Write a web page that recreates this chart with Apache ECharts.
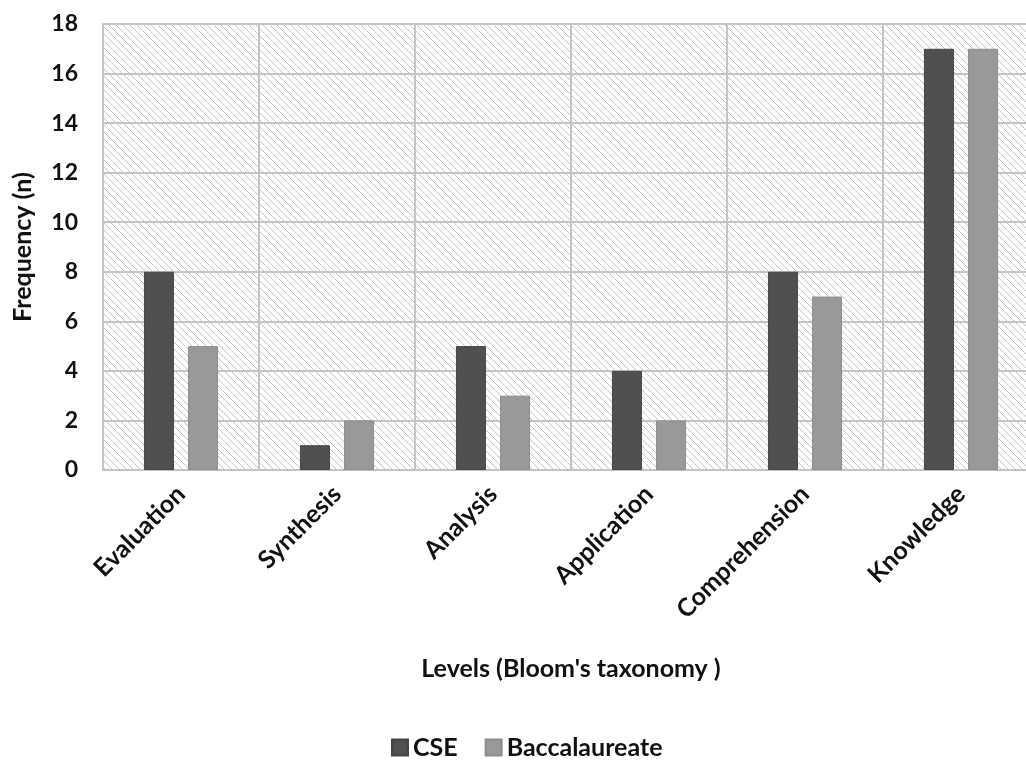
<!DOCTYPE html>
<html>
<head>
<meta charset="utf-8">
<script src="https://cdn.jsdelivr.net/npm/echarts@6/dist/echarts.min.js"></script>
<style>
  html, body { margin: 0; padding: 0; background: #fff; }
  #chart { width: 1026px; height: 760px; }
</style>
</head>
<body>
<div id="chart"></div>
<script>
// Bloom's taxonomy levels and question counts per source
const levels = ['Evaluation', 'Synthesis', 'Analysis', 'Application', 'Comprehension', 'Knowledge'];
const cseValues = [8, 1, 5, 4, 8, 17];
const baccValues = [5, 2, 3, 2, 7, 17];
const yTicks = { min: 0, max: 18, step: 2 };

// Diagonal hatch fill for the plot background
function makeHatch() {
  const c = document.createElement('canvas');
  c.width = 7; c.height = 7;
  const g = c.getContext('2d');
  g.fillStyle = '#ffffff';
  g.fillRect(0, 0, 7, 7);
  g.strokeStyle = '#c2c2c2';
  g.lineWidth = 1;
  g.beginPath();
  g.moveTo(-1, -1); g.lineTo(8, 8);
  g.moveTo(-1, 6); g.lineTo(1, 8);
  g.moveTo(6, -1); g.lineTo(8, 1);
  g.stroke();
  return c;
}

const font = 'Lato, "Open Sans", sans-serif';
const chart = echarts.init(document.getElementById('chart'));
chart.setOption({
  animation: false,
  grid: {
    left: 103, top: 24, width: 936, height: 446,
    outerBoundsMode: 'none',
    show: true,
    backgroundColor: { image: makeHatch(), repeat: 'repeat' },
    borderColor: '#c4c4c4', borderWidth: 2
  },
  legend: {
    top: 730, left: 386,
    itemWidth: 16, itemHeight: 16, itemGap: 27,
    icon: 'rect',
    textStyle: { fontFamily: font, fontWeight: 'bold', fontSize: 25, color: '#111' },
    data: ['CSE', 'Baccalaureate']
  },
  xAxis: {
    type: 'category',
    data: levels,
    name: "Levels (Bloom's taxonomy )",
    nameLocation: 'middle',
    nameGap: 186,
    nameTextStyle: { fontFamily: font, fontWeight: 'bold', fontSize: 25, color: '#111' },
    axisLine: { lineStyle: { color: '#c4c4c4', width: 2 } },
    axisTick: { show: false },
    splitLine: { show: true, lineStyle: { color: '#c4c4c4', width: 2 } },
    axisLabel: {
      rotate: 45, margin: 20, interval: 0,
      fontFamily: font, fontWeight: 'bold', fontSize: 25, color: '#111'
    }
  },
  yAxis: {
    type: 'value',
    min: yTicks.min, max: yTicks.max, interval: yTicks.step,
    name: 'Frequency (n)',
    nameLocation: 'middle',
    nameGap: 68,
    nameTextStyle: { fontFamily: font, fontWeight: 'bold', fontSize: 25, color: '#111' },
    axisLine: { show: false },
    axisTick: { show: false },
    splitLine: { lineStyle: { color: '#c4c4c4', width: 2 } },
    axisLabel: { margin: 25, fontFamily: font, fontWeight: 'bold', fontSize: 23, color: '#111' }
  },
  series: [
    {
      name: 'CSE', type: 'bar', data: cseValues,
      barWidth: 30, barGap: '47%',
      itemStyle: { color: '#505050', borderColor: '#444', borderWidth: 1 }
    },
    {
      name: 'Baccalaureate', type: 'bar', data: baccValues,
      barWidth: 30,
      itemStyle: { color: '#999999', borderColor: '#8c8c8c', borderWidth: 1 }
    }
  ]
});
</script>
</body>
</html>
